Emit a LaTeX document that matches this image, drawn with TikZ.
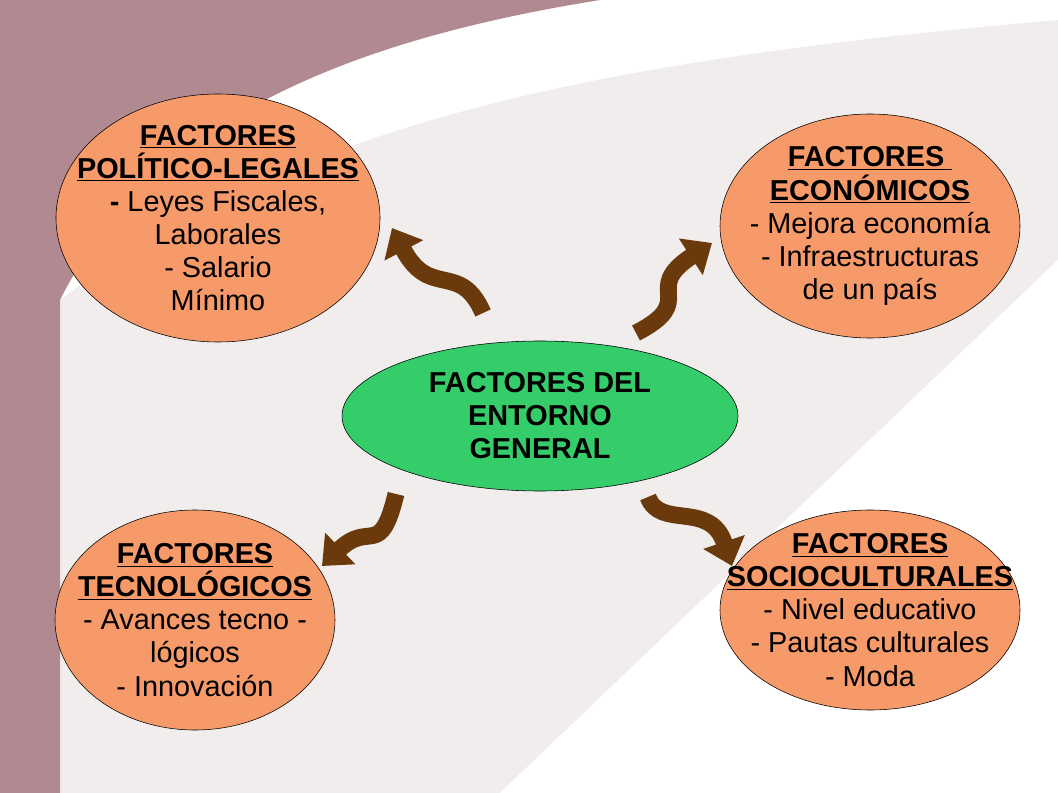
\documentclass[tikz,border=0pt]{standalone}
\usepackage{fontspec}
\setmainfont{Liberation Sans}
\usetikzlibrary{shapes.geometric,arrows.meta}
\definecolor{naranja}{HTML}{F79A6A}
\definecolor{verde}{HTML}{35CC6A}
\definecolor{cafe}{HTML}{6B3A0C}
\definecolor{malva}{HTML}{B08A90}
\definecolor{fondo}{HTML}{F1EDED}
\tikzset{
  factor/.style={ellipse, draw, fill=naranja, inner sep=-40pt, align=center,
    font=\fontsize{20.5}{23.5}\selectfont},
  centro/.style={ellipse, draw, fill=verde, inner sep=-40pt, align=center,
    font=\fontsize{20.5}{23.5}\selectfont\bfseries},
  flecha/.style={line width=12pt, cafe, -{Triangle[length=18pt,width=30pt]}}
}
\begin{document}
\begin{tikzpicture}[x=0.025cm,y=-0.025cm]
    % Fondo
    \fill[white] (0,0) rectangle (1058,793);
    \useasboundingbox (0,0) rectangle (1058,793);
    \fill[fondo] (60,793) -- (60,300) .. controls (300,120) and (600,60) .. (1058,20) -- (1058,793) -- cycle;
    \fill[white] (500,793) -- (1058,260) -- (1058,793) -- cycle;
    \fill[malva] (0,0) -- (600,0) .. controls (350,40) and (150,120) .. (60,300) -- (60,793) -- (0,793) -- cycle;

    % Elipses
    \node[centro, minimum width=396*0.025cm, minimum height=150*0.025cm] (ctr) at (540,416)
        {FACTORES DEL\\ENTORNO\\GENERAL};
    \node[factor, minimum width=324*0.025cm, minimum height=248*0.025cm] (pol) at (218,218)
        {\textbf{\underline{FACTORES}}\\\textbf{\underline{POLÍTICO-LEGALES}}\\\textbf{-} Leyes Fiscales,\\Laborales\\- Salario\\Mínimo};
    \node[factor, minimum width=300*0.025cm, minimum height=224*0.025cm] (eco) at (870,226)
        {\textbf{\underline{FACTORES }}\\\textbf{\underline{ECONÓMICOS}}\\- Mejora economía\\- Infraestructuras\\de un país};
    \node[factor, minimum width=280*0.025cm, minimum height=220*0.025cm] (tec) at (195,620)
        {\textbf{\underline{FACTORES}}\\\textbf{\underline{TECNOLÓGICOS}}\\- Avances tecno -\\lógicos\\- Innovación};
    \node[factor, minimum width=300*0.025cm, minimum height=200*0.025cm] (soc) at (870,610)
        {\textbf{\underline{FACTORES}}\\\textbf{\underline{SOCIOCULTURALES}}\\- Nivel educativo\\- Pautas culturales\\- Moda};

    % Flechas
    \coordinate (a1) at (483,313); \coordinate (b1) at (392,228);
    \coordinate (a2) at (636,333); \coordinate (b2) at (712,243);
    \coordinate (a3) at (396,494); \coordinate (b3) at (322,566);
    \coordinate (a4) at (648,497); \coordinate (b4) at (732,566);
    \draw[flecha] (a1) .. controls (460,260) and (430,300) .. (b1);
    \draw[flecha] (a2) .. controls (700,300) and (640,290) .. (b2);
    \draw[flecha] (a3) .. controls (380,560) and (370,520) .. (b3);
    \draw[flecha] (a4) .. controls (660,530) and (710,500) .. (b4);
\end{tikzpicture}
\end{document}
